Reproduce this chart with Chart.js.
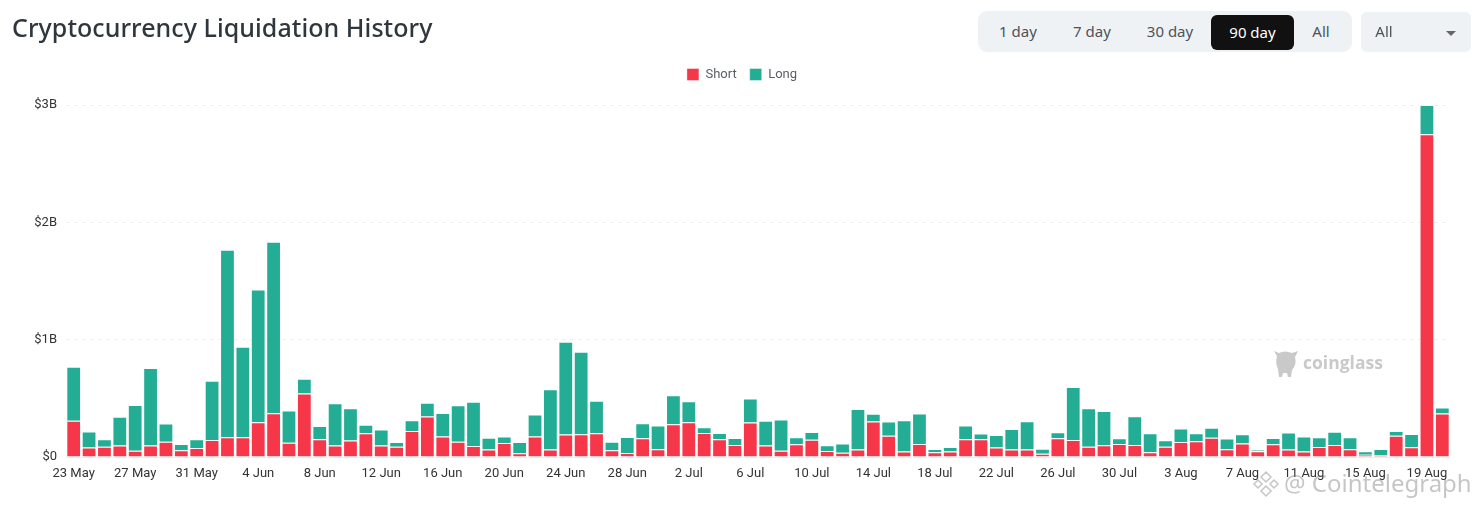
<!DOCTYPE html>
<html>
<head>
<meta charset="utf-8">
<title>Cryptocurrency Liquidation History</title>
<script src="https://cdn.jsdelivr.net/npm/chart.js@4/dist/chart.umd.min.js"></script>
<style>
    html, body { margin: 0; padding: 0; background: #fff; }
    body { position: relative; width: 1479px; height: 507px; overflow: hidden; font-family: "Noto Sans", sans-serif; }
    #chart { position: absolute; left: 0; top: 0; }
    h1 { position: absolute; left: 12px; top: 9px; margin: 0; font-size: 25px; line-height: 36px; font-weight: 500; letter-spacing: 0.06px; color: #30363d; white-space: nowrap; }
    .range { position: absolute; left: 978px; top: 11px; width: 374px; height: 41px; background: #eff2f5; border-radius: 9px; }
    .range span, .select span { position: absolute; top: 10px; line-height: 20px; font-size: 15px; color: #4d5359; transform: translateX(-50%); white-space: nowrap; }
    .range .on { left: 233px; top: 4px; width: 83px; height: 35px; line-height: 34px; text-align: center; transform: none; background: #111; color: #fff; border-radius: 6px; }
    .select { position: absolute; left: 1361px; top: 12px; width: 110px; height: 40px; background: #eff2f5; border-radius: 6px; }
    .select span { top: 9px; }
    .select i { position: absolute; left: 85px; top: 19px; border: 5px solid transparent; border-top-color: #666; border-bottom: 0; }
    .brand { position: absolute; left: 1303px; top: 350px; font: bold 17.5px "Open Sans", sans-serif; color: #c9c9c9; }
    .stamp { position: absolute; left: 1284px; top: 466px; font-size: 24px; color: rgba(120,120,120,.42); white-space: nowrap; }
    svg { position: absolute; }
</style>
</head>
<body>
<canvas id="chart" width="1479" height="507"></canvas>
<h1>Cryptocurrency Liquidation History</h1>
<div class="range">
    <span style="left:40px">1 day</span>
    <span style="left:114px">7 day</span>
    <span style="left:192px">30 day</span>
    <span class="on">90 day</span>
    <span style="left:343px">All</span>
</div>
<div class="select"><span style="left:23px">All</span><i></i></div>
<svg style="left:1273px;top:349px" width="26" height="29" viewBox="0 0 26 29"><path d="M1 2l5 2q6-3 13 0l6-2-3 6q2 8-3 13l-1 7h-3l-1-4h-4l-1 4H6l-1-8Q2 14 4 7z" fill="#c9c9c9"/></svg>
<div class="brand">coinglass</div>
<svg style="left:1252px;top:470px" width="28" height="28" viewBox="0 0 28 28"><path d="M14 2l5 5-5 5-5-5zM6 10l4 4-4 4-4-4zM22 10l4 4-4 4-4-4zM14 16l5 5-5 5-5-5z" fill="none" stroke="rgba(120,120,120,.42)" stroke-width="1.5"/></svg>
<div class="stamp">@ Cointelegraph</div>
<script>
const categories = [
    "23 May", "24 May", "25 May", "26 May", "27 May", "28 May", "29 May", "30 May", "31 May",
    "1 Jun", "2 Jun", "3 Jun", "4 Jun", "5 Jun", "6 Jun", "7 Jun", "8 Jun", "9 Jun", "10 Jun",
    "11 Jun", "12 Jun", "13 Jun", "14 Jun", "15 Jun", "16 Jun", "17 Jun", "18 Jun", "19 Jun",
    "20 Jun", "21 Jun", "22 Jun", "23 Jun", "24 Jun", "25 Jun", "26 Jun", "27 Jun", "28 Jun",
    "29 Jun", "30 Jun", "1 Jul", "2 Jul", "3 Jul", "4 Jul", "5 Jul", "6 Jul", "7 Jul", "8 Jul",
    "9 Jul", "10 Jul", "11 Jul", "12 Jul", "13 Jul", "14 Jul", "15 Jul", "16 Jul", "17 Jul",
    "18 Jul", "19 Jul", "20 Jul", "21 Jul", "22 Jul", "23 Jul", "24 Jul", "25 Jul", "26 Jul",
    "27 Jul", "28 Jul", "29 Jul", "30 Jul", "31 Jul", "1 Aug", "2 Aug", "3 Aug", "4 Aug",
    "5 Aug", "6 Aug", "7 Aug", "8 Aug", "9 Aug", "10 Aug", "11 Aug", "12 Aug", "13 Aug",
    "14 Aug", "15 Aug", "16 Aug", "17 Aug", "18 Aug", "19 Aug", "20 Aug"
];

// billions of dollars
const shortValues = [
    0.308, 0.08, 0.088, 0.097, 0.054, 0.097, 0.131, 0.057, 0.077, 0.145,
    0.168, 0.168, 0.296, 0.373, 0.122, 0.541, 0.151, 0.097, 0.14, 0.202,
    0.097, 0.088, 0.222, 0.345, 0.174, 0.131, 0.094, 0.063, 0.12, 0.031,
    0.174, 0.063, 0.191, 0.194, 0.202, 0.057, 0.034, 0.16, 0.066, 0.279,
    0.296, 0.205, 0.151, 0.103, 0.293, 0.097, 0.054, 0.108, 0.148, 0.051,
    0.037, 0.063, 0.302, 0.182, 0.046, 0.111, 0.04, 0.046, 0.151, 0.151,
    0.08, 0.063, 0.063, 0.028, 0.16, 0.145, 0.088, 0.1, 0.111, 0.103,
    0.04, 0.088, 0.128, 0.134, 0.165, 0.066, 0.114, 0.048, 0.108, 0.063,
    0.046, 0.085, 0.103, 0.066, 0.02, 0.017, 0.182, 0.083, 2.75, 0.37
];
const longValues = [
    0.462, 0.137, 0.063, 0.245, 0.39, 0.661, 0.154, 0.054, 0.074, 0.505,
    1.598, 0.772, 1.131, 1.462, 0.274, 0.126, 0.114, 0.362, 0.276, 0.072,
    0.137, 0.04, 0.091, 0.117, 0.202, 0.311, 0.376, 0.102, 0.054, 0.097,
    0.188, 0.515, 0.792, 0.703, 0.277, 0.074, 0.137, 0.128, 0.202, 0.248,
    0.18, 0.049, 0.054, 0.059, 0.205, 0.211, 0.265, 0.06, 0.066, 0.049,
    0.077, 0.347, 0.066, 0.12, 0.267, 0.259, 0.028, 0.039, 0.117, 0.049,
    0.108, 0.176, 0.242, 0.043, 0.051, 0.451, 0.328, 0.292, 0.049, 0.245,
    0.162, 0.054, 0.114, 0.068, 0.085, 0.091, 0.08, 0.015, 0.054, 0.145,
    0.128, 0.083, 0.113, 0.102, 0.028, 0.051, 0.04, 0.114, 0.25, 0.051
];
const yTicks = [0, 1, 2, 3];

function barStyle(color) {
    return {
        backgroundColor: color,
        borderColor: "rgba(255,255,255,0.4)",
        borderWidth: 1,
        barPercentage: 0.96,
        categoryPercentage: 1,
    };
}

// the legend sits centred on the page, not on the padded chart box
const legendNudge = {
    id: "legendNudge",
    afterLayout(chart) {
        chart.legend.left += 17;
        chart.legend.right += 17;
        chart.legend.top -= 14;
        chart.legend.bottom -= 14;
    },
};

new Chart(document.getElementById("chart"), {
    type: "bar",
    data: {
        labels: categories,
        datasets: [
            { label: "Short", data: shortValues, ...barStyle("#f63649") },
            { label: "Long", data: longValues, ...barStyle("#22ad94") },
        ],
    },
    plugins: [legendNudge],
    options: {
        responsive: false,
        animation: false,
        layout: { padding: { top: 69, right: 29, left: 0, bottom: 0 } },
        plugins: {
            tooltip: { enabled: false },
            legend: {
                labels: {
                    boxWidth: 12,
                    boxHeight: 12,
                    padding: 13,
                    color: "#5a5f66",
                    font: { family: "Roboto", size: 13 },
                },
            },
        },
        scales: {
            x: {
                stacked: true,
                grid: { display: false },
                border: { color: "#eeeeee" },
                afterFit: (scale) => { scale.height = 50; },
                ticks: {
                    autoSkip: false,
                    maxRotation: 0,
                    padding: 1,
                    color: "#333333",
                    font: { family: "Roboto", size: 13 },
                    callback: (v, i) => (i % 4 === 0 ? categories[i] : ""),
                },
            },
            y: {
                stacked: true,
                min: 0,
                max: 3,
                afterFit: (scale) => { scale.width = 66; },
                afterBuildTicks: (scale) => { scale.ticks = yTicks.map((value) => ({ value })); },
                grid: { color: "#f0f0f0", drawTicks: false },
                border: { display: false, dash: [4, 4] },
                ticks: {
                    padding: 9,
                    color: "#333333",
                    font: { family: "Roboto", size: 13 },
                    callback: (v) => "$" + v + (v === 0 ? "" : "B"),
                },
            },
        },
    },
});
</script>
</body>
</html>
